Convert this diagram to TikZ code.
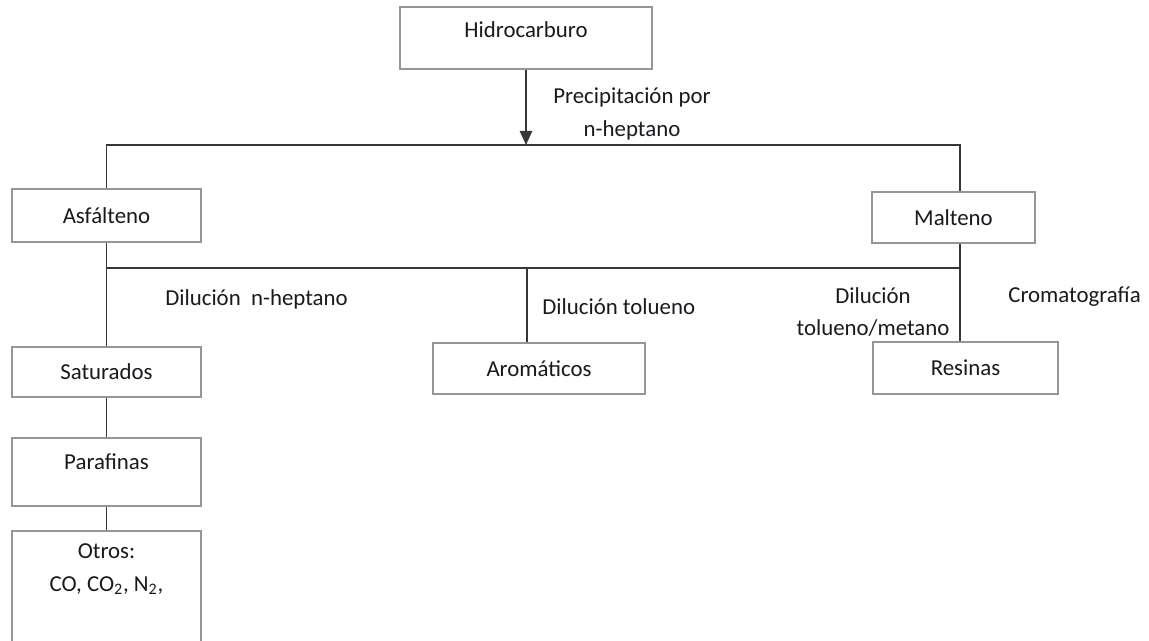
\documentclass[tikz,border=0pt]{standalone}
\usepackage{fontspec}
\setmainfont{Carlito}
\usepackage{tikz}
\usetikzlibrary{arrows.meta, positioning, calc}
\usepackage{xcolor}
\definecolor{boxgray}{RGB}{150, 150, 150}
\definecolor{linegray}{RGB}{55, 55, 55}
\definecolor{textblack}{RGB}{25, 25, 30}

\begin{document}
\begin{tikzpicture}[
        x=0.02cm, y=-0.02cm,
        box/.style={draw=boxgray, fill=white, line width=1pt,
                    text=textblack, inner sep=0pt,
                    font=\fontsize{13}{18.5}\selectfont},
        lbl/.style={text=textblack, inner sep=0pt, align=center,
                    font=\fontsize{13}{18.5}\selectfont},
        conn/.style={draw=linegray, line width=1pt},
      ]
        \useasboundingbox (0,0) rectangle (1149,641);
        \clip (0,0) rectangle (1149,641);

        % top level
        \node[box, minimum width=5.04cm, minimum height=1.24cm,
              text height=0.3cm, text depth=0.32cm] (hidro) at (526,38)
          {Hidrocarburo};

        % first split
        \node[box, minimum width=3.78cm, minimum height=1.06cm] (asf) at (106.5,215.5)
          {Asfálteno};
        \node[box, minimum width=3.26cm, minimum height=1.02cm] (malt) at (953.5,217.5)
          {Malteno};
        \coordinate (split1) at (526,145);

        \draw[conn, -{Triangle[length=8pt, width=7pt]}] (hidro.south) -- (split1);
        \draw[conn] (asf.north) |- (split1) -| ([xshift=3.5]malt.north);
        \node[lbl] (prec) at (632,114) {Precipitación por\\n-heptano};

        % second split
        \node[box, minimum width=3.78cm, minimum height=1.0cm] (sat) at (106.5,372)
          {Saturados};
        \node[box, minimum width=4.24cm, minimum height=1.02cm] (arom) at (539,368.5)
          {Aromáticos};
        \node[box, minimum width=3.7cm, minimum height=1.04cm] (res) at (965.5,368)
          {Resinas};
        \coordinate (split2) at (527,268);

        \draw[conn] (asf.south) -- (sat.north);
        \draw[conn] ([xshift=3.5]malt.south) -- ([xshift=3.5]malt.south |- res.north);
        \draw[conn] (asf.south |- split2) -- ([xshift=3.5]malt.south |- split2);
        \draw[conn] (split2) -- (split2 |- arom.north);

        \node[lbl, anchor=west] (dil1) at (165,299) {Dilución\ \ n-heptano};
        \node[lbl, anchor=west] (dil2) at (542,307) {Dilución tolueno};
        \node[lbl] (dil3) at (873,312) {Dilución\\tolueno/metano};
        \node[lbl, anchor=west] (crom) at (1008,297) {Cromatografía};

        % saturados chain
        \node[box, minimum width=3.78cm, minimum height=1.36cm,
              text height=0.3cm, text depth=0.4cm] (paraf) at (106.5,472)
          {Parafinas};
        \node[box, minimum width=3.78cm, minimum height=2.6cm, align=center,
              text height=0.95cm, text depth=1.13cm] (otros) at (106.5,596)
          {Otros:\\CO, CO\textsubscript{2}, N\textsubscript{2},};

        \draw[conn] (sat.south) -- (paraf.north);
        \draw[conn] (paraf.south) -- (otros.north);
      \end{tikzpicture}
\end{document}
